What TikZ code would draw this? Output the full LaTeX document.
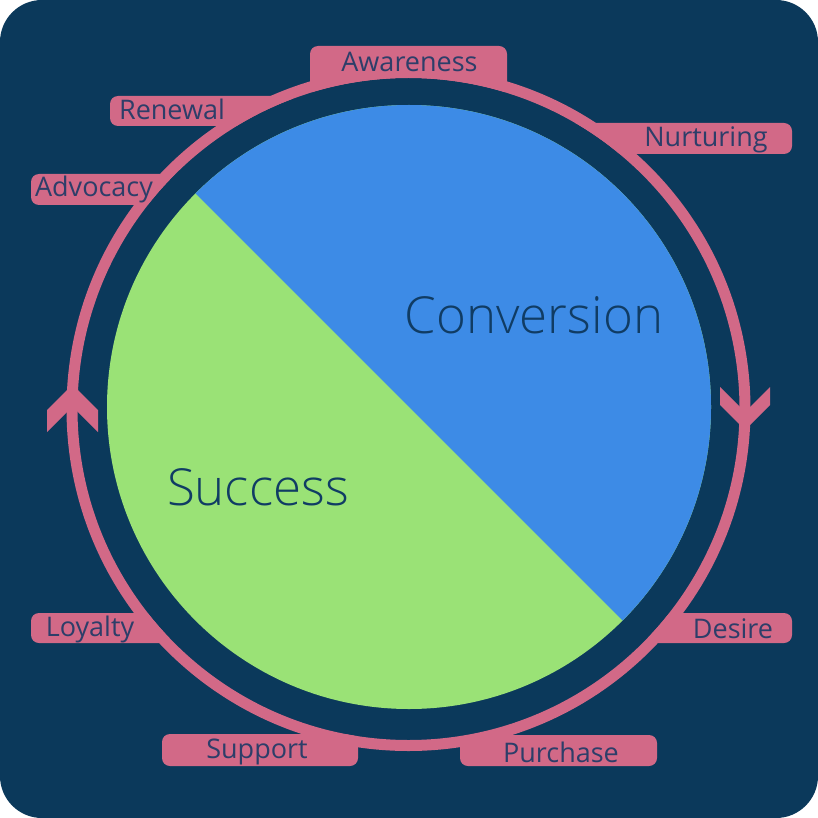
\documentclass[tikz,border=0pt]{standalone}
\usepackage{fontspec}
\setmainfont{Open Sans}
\newfontfamily\lightfont{Open Sans Light}
\definecolor{navy}{RGB}{11,57,91}
\definecolor{pinkc}{RGB}{210,105,135}
\definecolor{bluec}{RGB}{61,139,230}
\definecolor{greenc}{RGB}{154,226,118}
\definecolor{labc}{RGB}{45,62,105}
\definecolor{bigc}{RGB}{16,60,100}
\begin{document}
\begin{tikzpicture}[x=1pt,y=-1pt,
  tab/.style={fill=pinkc, rounded corners=8pt},
  lab/.style={anchor=base, text=labc, font=\fontsize{27}{27}\selectfont, inner sep=0pt},
  big/.style={anchor=base, text=bigc, font=\lightfont\fontsize{51}{51}\selectfont, inner sep=0pt}]
\useasboundingbox (0,0) rectangle (818,818);
\fill[white] (0,0) rectangle (818,818);
\fill[navy, rounded corners=42pt] (0,0) rectangle (818,818);
% tabs
\fill[tab] (310,46) rectangle (507,95);
\fill[tab] (110,96) rectangle (295,126);
\fill[tab] (31,174) rectangle (185,205);
\fill[tab] (560,123) rectangle (792,154);
\fill[tab] (650,613) rectangle (792,643);
\fill[tab] (460,735) rectangle (657,766);
\fill[tab] (31,613) rectangle (170,643);
\fill[tab] (162,734) rectangle (358,766);
% ring
\fill[navy] (408.5,409) circle (331);
\draw[pinkc, line width=11pt] (408.5,409) circle (336.5);
% arrowheads
\fill[pinkc] (47,410) -- (72.5,384.5) -- (98,410) -- (98,432) -- (72.5,406.5) -- (47,432) -- cycle;
\fill[pinkc] (720,387) -- (745,412) -- (770,387) -- (770,405) -- (745,430) -- (720,405) -- cycle;
% pie
\fill[greenc] (409,407) circle (302);
\begin{scope}
  \clip (-10,-12) -- (830,828) -- (830,-12) -- cycle;
  \fill[bluec] (409,407) circle (302);
\end{scope}
% texts
\node[big] (conv) at (534,333) {Conversion};
\node[big] (succ) at (258,505) {Success};
\node[lab] (aw) at (409.5,72) {Awareness};
\node[lab] (re) at (172,120) {Renewal};
\node[lab] (ad) at (94,197) {Advocacy};
\node[lab] (nu) at (706,147) {Nurturing};
\node[lab] (de) at (733,638) {Desire};
\node[lab] (pu) at (561,762) {Purchase};
\node[lab] (lo) at (90,636) {Loyalty};
\node[lab] (su) at (257,758) {Support};
\end{tikzpicture}
\end{document}
